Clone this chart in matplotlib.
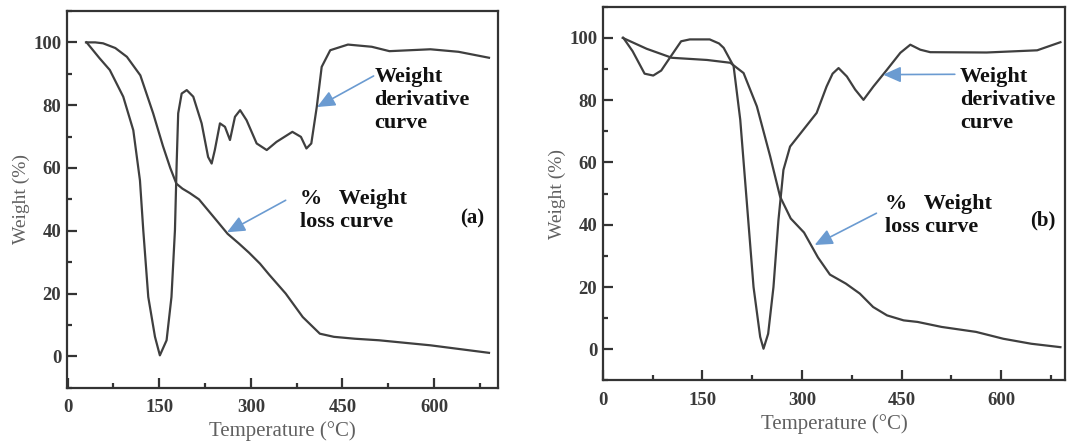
import matplotlib
matplotlib.use('Agg')
import matplotlib.pyplot as plt
from matplotlib.ticker import MultipleLocator

# ---------------- data: panel (a) ----------------
a_loss_T = [30, 45, 58, 78, 97, 119, 140, 156, 168, 178, 188, 200, 215, 230, 245, 262, 280,
            297, 315, 330, 357, 385, 413, 436, 470, 510, 594, 690]
a_loss_W = [100, 100, 99.7, 98.2, 95.4, 89.5, 77.4, 67, 60, 55, 53.4, 52, 50, 46.5, 43, 39, 36,
            33, 29.5, 26, 20, 12.5, 7.2, 6.2, 5.6, 5.1, 3.5, 1.1]

a_deriv_T = [31, 52, 69, 91, 107.5, 118.4, 123.8, 132, 143, 151, 162, 170, 175.7, 178.5,
             181, 186.7, 195, 205.7, 219.4, 230, 235.8, 241, 249.4, 257.6, 265.8, 274,
             282.4, 293, 309.5, 326, 342, 368, 382, 391, 399, 408, 416, 430, 459, 498,
             527, 594, 640, 690]
a_deriv_W = [100, 95, 91.2, 82.7, 72, 56, 40.2, 18.9, 6.2, 0.3, 5.1, 18.9, 40.2, 61.4,
             77.4, 83.7, 84.8, 82.7, 74.2, 63.5, 61.4, 65.7, 74.2, 73.1, 68.9, 76.3,
             78.4, 75.2, 67.8, 65.7, 68.3, 71.5, 69.9, 66.2, 67.8, 79.5, 92.2, 97.5, 99.3,
             98.6, 97.2, 97.8, 97, 95.1]

# ---------------- data: panel (b) ----------------
b_loss_T = [30, 66, 104, 157, 192, 212, 232, 252, 267, 283, 303, 324, 342, 366, 387,
            407, 428, 453, 474, 510, 562, 603, 645, 689]
b_loss_W = [100, 96.5, 93.6, 92.9, 92, 88.7, 78, 62, 49, 42, 37.5, 29.5, 24, 21.1, 17.9,
            13.6, 10.9, 9.3, 8.8, 7.2, 5.6, 3.4, 1.8, 0.7]

b_deriv_T = [31, 45, 63, 76, 88, 101, 118, 131, 161, 175, 182, 197, 207, 217, 227, 237,
             242, 249, 257, 264.5, 272, 282, 302, 322, 337, 346, 355, 367.5, 380, 392.5,
             407.5, 428, 448, 463, 478, 493, 578, 654, 689]
b_deriv_W = [100, 95.7, 88.5, 87.9, 89.5, 93.6, 98.9, 99.5, 99.5, 98.2, 96.8, 90.9, 73.7,
             46.9, 20, 4, 0.2, 5, 20, 41.5, 57.6, 65.1, 70.5, 75.9, 84.4, 88.5, 90.3,
             87.6, 83.4, 80.1, 84.4, 89.8, 95.2, 97.8, 96.2, 95.4, 95.3, 96, 98.6]

x_label = "Temperature (°C)"
y_label = "Weight (%)"
deriv_text = "Weight\nderivative\ncurve"
loss_text = "%   Weight\nloss curve"

SERIF = ['Liberation Serif', 'DejaVu Serif']
LINE_C = '#3f3f3f'
ARROW_C = '#6b9bd1'

fig = plt.figure(figsize=(10.67, 4.41), dpi=100)
axA = fig.add_axes([0.0625, 0.1209, 0.4038, 0.8542])
axB = fig.add_axes([0.5649, 0.1372, 0.4333, 0.8476])


def style(ax, xlim):
    ax.set_xlim(*xlim)
    ax.set_ylim(-10, 110)
    ax.xaxis.set_major_locator(MultipleLocator(150))
    ax.xaxis.set_minor_locator(MultipleLocator(75))
    ax.yaxis.set_major_locator(MultipleLocator(20))
    ax.yaxis.set_minor_locator(MultipleLocator(10))
    ax.tick_params(which='both', direction='in', top=False, right=False,
                   width=1.6, color='#333333')
    ax.tick_params(which='major', length=7, labelsize=13.5, labelcolor='#3a3a3a')
    ax.tick_params(axis='x', which='major', pad=8)
    ax.tick_params(axis='y', which='major', pad=4)
    ax.tick_params(which='minor', length=3.5)
    for s in ax.spines.values():
        s.set_linewidth(1.6)
        s.set_color('#333333')
    for lbl in ax.get_xticklabels() + ax.get_yticklabels():
        lbl.set_fontfamily(SERIF)
        lbl.set_fontweight('bold')
    ax.set_xlabel(x_label, fontsize=15, color='#606060', family=SERIF, labelpad=4)
    ax.set_ylabel(y_label, fontsize=14, color='#606060', family=SERIF, labelpad=2)


def annotate(ax, text, xy_text, tip, start):
    ax.text(xy_text[0], xy_text[1], text, ha='left', va='center', fontsize=16,
            fontweight='bold', family=SERIF, color='#111111', linespacing=1.2)
    ax.annotate('', xy=tip, xytext=start,
                arrowprops=dict(arrowstyle='-|>,head_length=0.9,head_width=0.4',
                                color=ARROW_C, lw=1.2, shrinkA=0, shrinkB=0,
                                mutation_scale=12))


# panel (a)
axA.plot(a_loss_T, a_loss_W, color=LINE_C, lw=1.6, solid_joinstyle='round')
axA.plot(a_deriv_T, a_deriv_W, color=LINE_C, lw=1.6, solid_joinstyle='round')
style(axA, (-1.6, 704))
annotate(axA, deriv_text, (502, 81.6), (408.5, 79.4), (501, 89.3))
annotate(axA, loss_text, (380, 46.4), (261, 39.5), (357, 49.7))
axA.text(663, 44, "(a)", ha='center', va='center', fontsize=15, fontweight='bold',
         family=SERIF, color='#111111')

# panel (b)
axB.plot(b_loss_T, b_loss_W, color=LINE_C, lw=1.6, solid_joinstyle='round')
axB.plot(b_deriv_T, b_deriv_W, color=LINE_C, lw=1.6, solid_joinstyle='round')
style(axB, (0, 696))
annotate(axB, deriv_text, (538, 80.1), (422, 88.2), (530, 88.3))
annotate(axB, loss_text, (425, 42.9), (319, 33.5), (412, 43.7))
axB.text(662, 41.5, "(b)", ha='center', va='center', fontsize=15, fontweight='bold',
         family=SERIF, color='#111111')

fig.savefig('out.png', dpi=100)
